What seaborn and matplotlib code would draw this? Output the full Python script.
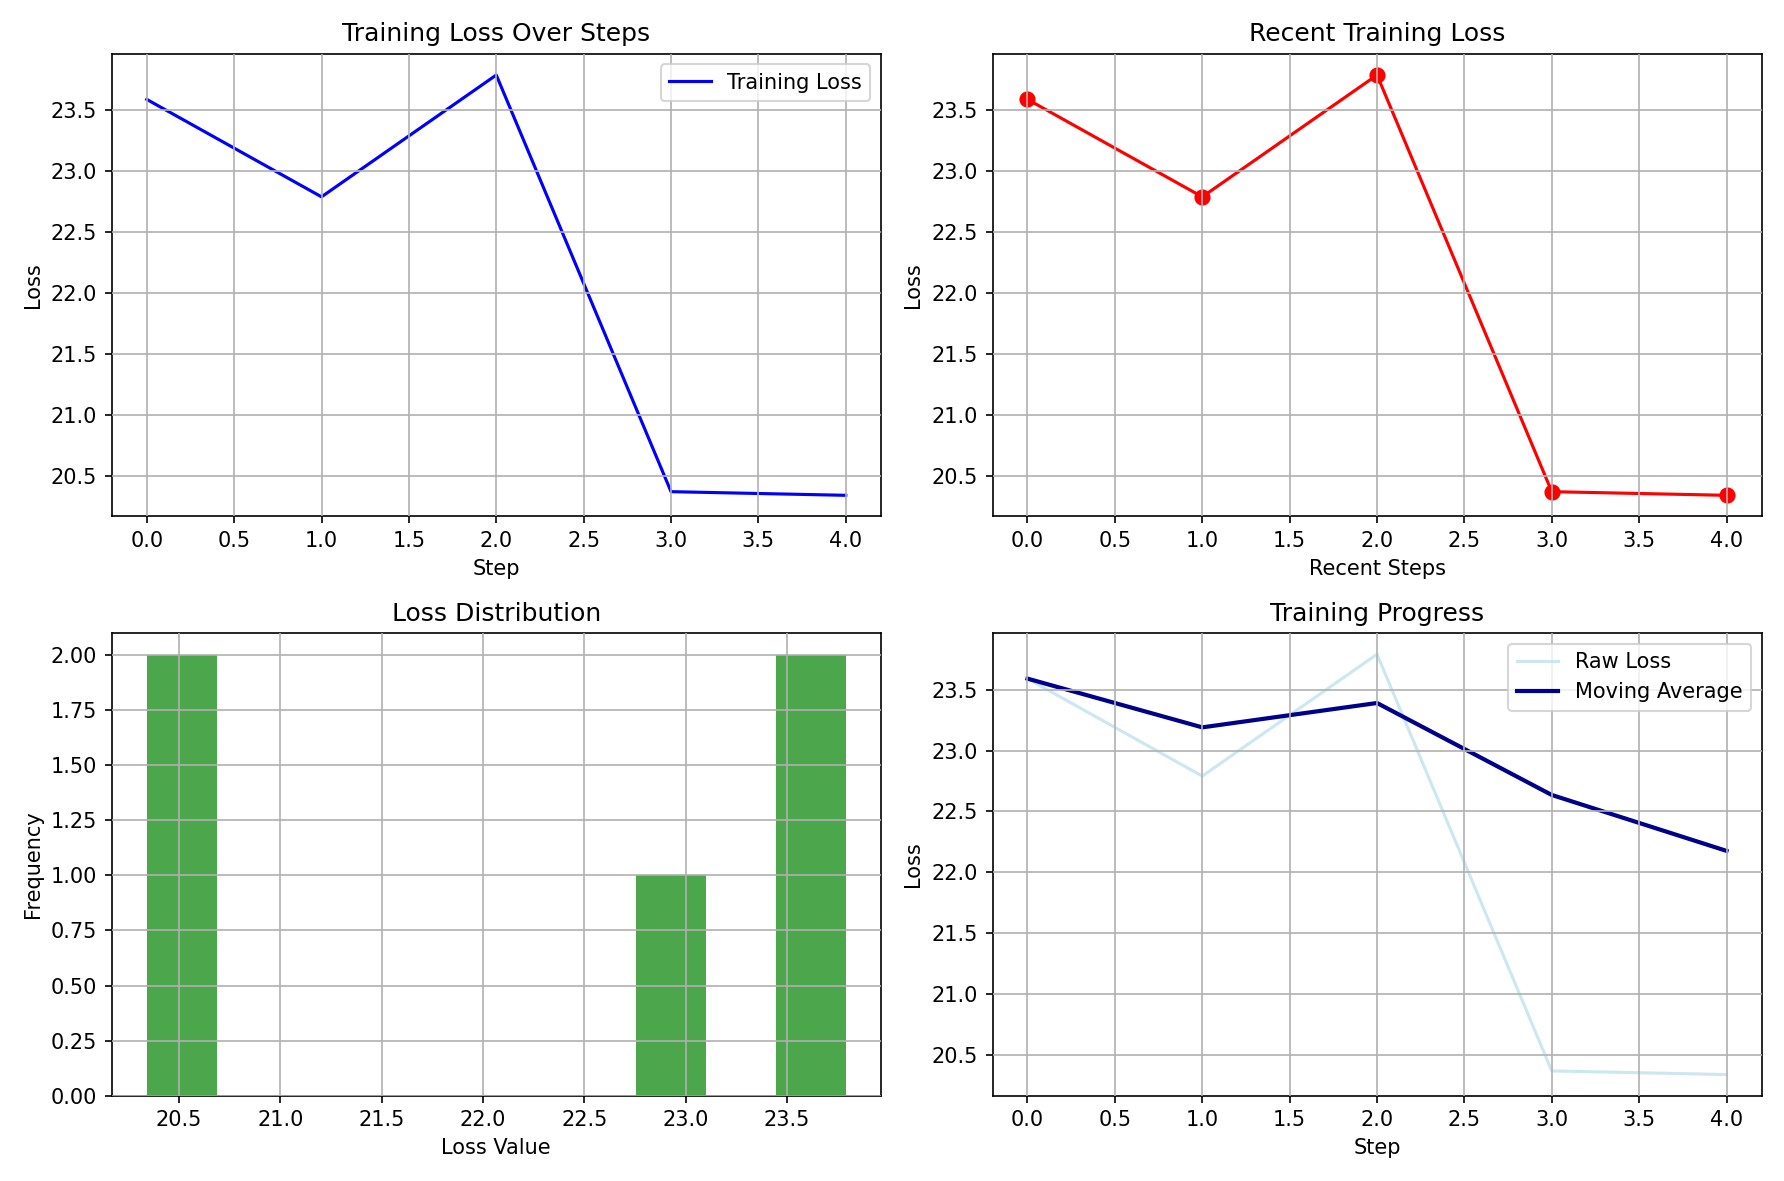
import numpy as np
import pandas as pd
import seaborn as sns
import matplotlib
matplotlib.use("Agg")
import matplotlib.pyplot as plt

steps = [0, 1, 2, 3, 4]
loss = [23.59, 22.79, 23.79, 20.37, 20.34]
moving_avg = [23.59, 23.19, 23.39, 22.635, 22.176]

df = pd.DataFrame({"step": steps, "loss": loss, "avg": moving_avg})

fig, axes = plt.subplots(2, 2, figsize=(1784 / 150, 1181 / 150), dpi=150)

# Training loss
ax = axes[0, 0]
sns.lineplot(data=df, x="step", y="loss", color="blue", label="Training Loss", ax=ax)
ax.set_title("Training Loss Over Steps")
ax.set_xlabel("Step")
ax.set_ylabel("Loss")
ax.legend(loc="upper right")
ax.grid(True)

# Recent loss
ax = axes[0, 1]
sns.lineplot(data=df, x="step", y="loss", color="red", marker="o",
             markersize=7, markeredgecolor="red", ax=ax)
ax.set_title("Recent Training Loss")
ax.set_xlabel("Recent Steps")
ax.set_ylabel("Loss")
ax.grid(True)

# Distribution
ax = axes[1, 0]
sns.histplot(data=df, x="loss", bins=10, color="green", alpha=0.7,
             edgecolor=None, linewidth=0, ax=ax)
ax.set_title("Loss Distribution")
ax.set_xlabel("Loss Value")
ax.set_ylabel("Frequency")
ax.grid(True)

# Progress
ax = axes[1, 1]
sns.lineplot(data=df, x="step", y="loss", color="lightblue", alpha=0.6,
             label="Raw Loss", ax=ax)
sns.lineplot(data=df, x="step", y="avg", color="darkblue", linewidth=2,
             label="Moving Average", ax=ax)
ax.set_title("Training Progress")
ax.set_xlabel("Step")
ax.set_ylabel("Loss")
ax.legend(loc="upper right")
ax.grid(True)

for a in axes.flat:
    a.set_axisbelow(False)

plt.tight_layout()
plt.savefig("out.png", dpi=150)
